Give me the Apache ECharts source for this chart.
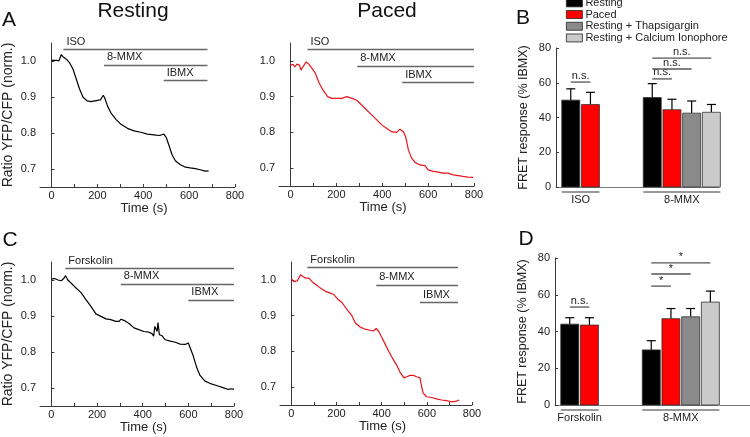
<!DOCTYPE html>
<html>
<head>
<meta charset="utf-8">
<script src="https://cdn.jsdelivr.net/npm/echarts@6/dist/echarts.min.js"></script>
<style>
  html, body { margin: 0; padding: 0; background: #fff; }
  #main { width: 750px; height: 437px; }
</style>
</head>
<body>
<div id="main"></div>
<script>
// ---- traces (time in s, normalised YFP/CFP ratio) ----
const tIsoRest = [0, 22, 32, 43, 50, 65, 79, 94, 108, 122, 137, 156, 173, 195, 213, 226, 233, 245, 259, 281, 303, 331, 360, 389, 418, 447, 468, 480, 490, 500, 512, 526, 540, 562, 584, 605, 627, 648, 670, 685];
const rIsoRest = [1.002, 1.002, 1.0, 1.018, 1.012, 1.005, 0.995, 0.977, 0.95, 0.923, 0.90, 0.889, 0.887, 0.89, 0.892, 0.905, 0.896, 0.874, 0.856, 0.838, 0.824, 0.813, 0.806, 0.802, 0.797, 0.795, 0.793, 0.795, 0.797, 0.788, 0.766, 0.739, 0.723, 0.712, 0.705, 0.703, 0.701, 0.698, 0.694, 0.695];

const tIsoPaced = [0, 12, 19, 29, 39, 46, 54, 62, 69, 80, 94, 109, 123, 142, 162, 181, 203, 224, 246, 268, 289, 311, 333, 354, 376, 398, 420, 441, 463, 477, 492, 502, 514, 528, 543, 564, 586, 600, 622, 644, 665, 687, 709, 731, 752, 774, 796];
const rIsoPaced = [0.988, 0.99, 0.983, 0.991, 0.988, 0.974, 0.983, 0.98, 0.997, 0.991, 0.979, 0.965, 0.941, 0.918, 0.90, 0.895, 0.895, 0.895, 0.90, 0.895, 0.89, 0.876, 0.862, 0.849, 0.835, 0.821, 0.811, 0.802, 0.80, 0.809, 0.802, 0.788, 0.751, 0.728, 0.716, 0.709, 0.707, 0.695, 0.691, 0.689, 0.686, 0.686, 0.681, 0.679, 0.677, 0.675, 0.674];

const tFskRest = [0, 14, 29, 43, 55, 62, 72, 87, 109, 130, 152, 174, 195, 217, 239, 260, 282, 297, 304, 318, 340, 362, 383, 405, 427, 441, 448, 453, 459, 463, 467, 473, 485, 499, 521, 543, 564, 586, 600, 608, 622, 637, 651, 673, 694, 723, 752, 774, 788, 800];
const rFskRest = [1.003, 1.004, 1.0, 0.998, 1.005, 1.012, 1.0, 0.991, 0.977, 0.965, 0.945, 0.926, 0.906, 0.899, 0.892, 0.89, 0.885, 0.885, 0.891, 0.888, 0.879, 0.867, 0.862, 0.857, 0.855, 0.851, 0.844, 0.871, 0.876, 0.857, 0.882, 0.848, 0.845, 0.834, 0.83, 0.827, 0.822, 0.821, 0.825, 0.821, 0.788, 0.756, 0.735, 0.719, 0.713, 0.707, 0.701, 0.696, 0.698, 0.696];

const tFskPaced = [1, 12, 26, 34, 41, 53, 63, 78, 92, 107, 129, 151, 173, 188, 203, 225, 247, 269, 283, 305, 327, 349, 364, 376, 386, 401, 415, 430, 445, 467, 481, 499, 511, 526, 540, 555, 570, 577, 584, 599, 621, 643, 665, 687, 709, 731, 743];
const rFskPaced = [1.003, 0.995, 0.997, 0.995, 1.014, 1.009, 1.005, 1.005, 0.995, 0.988, 0.977, 0.968, 0.963, 0.959, 0.948, 0.936, 0.917, 0.899, 0.88, 0.868, 0.862, 0.859, 0.857, 0.864, 0.857, 0.839, 0.821, 0.802, 0.784, 0.761, 0.742, 0.726, 0.729, 0.733, 0.733, 0.729, 0.726, 0.701, 0.683, 0.673, 0.671, 0.667, 0.664, 0.662, 0.659, 0.661, 0.664];

// ---- drug application bars above the traces ----
const drugsIso = ['ISO', '8-MMX', 'IBMX'];
const drugsFsk = ['Forskolin', '8-MMX', 'IBMX'];
const isoRestStart = [52, 229, 489], isoRestEnd = 680, isoRestLevel = [1.032, 0.989, 0.946];
const isoPacedStart = [74, 291, 487], isoPacedEnd = 800, isoPacedLevel = [1.033, 0.986, 0.939];
const fskRestStart = [61, 304, 600], fskRestEnd = 800, fskRestLevel = [1.033, 0.989, 0.945];
const fskPacedStart = [71, 376, 570], fskPacedEnd = 738, fskPacedLevel = [1.034, 0.986, 0.937];

// ---- bar panels (mean, SEM) ----
const conditions = ['Resting', 'Paced', 'Resting + Thapsigargin', 'Resting + Calcium Ionophore'];
const condColors = ['#000000', '#ff0000', '#8a8a8a', '#cacaca'];

const bGroups = ['ISO', '8-MMX'];
const bMean = [[50, 51.5], [47.5, 44.5], [null, 42.5], [null, 43]];
const bErr = [[6.5, 8], [7, 6], [null, 7], [null, 4.5]];
const bSigGroup = [0, 1, 1, 1], bSigFrom = [0, 0, 0, 0], bSigTo = [1, 1, 2, 3];
const bSigLevel = [60.4, 62.2, 67.9, 74.2];
const bSigText = ['n.s.', 'n.s.', 'n.s.', 'n.s.'];

const dGroups = ['Forskolin', '8-MMX'];
const dMean = [[44, 30], [43.5, 47], [null, 48], [null, 56]];
const dErr = [[3.5, 5], [4, 5.5], [null, 4.5], [null, 6]];
const dSigGroup = [0, 1, 1, 1], dSigFrom = [0, 0, 0, 0], dSigTo = [1, 1, 2, 3];
const dSigLevel = [53.3, 64.7, 71.3, 77.3];
const dSigText = ['n.s.', '*', '*', '*'];

const groupBarCount = [2, 4];

const FONT = '"Liberation Sans", Arial, Helvetica, sans-serif';
const AXIS = '#3a3a3a';
const SLOT0 = -35, PITCH = 19.7, BAR_W = 18;

const chart = echarts.init(document.getElementById('main'), null, { renderer: 'canvas' });

function zip(xs, ys) { return xs.map((x, i) => [x, ys[i]]); }

function traceX(grid) {
	return {
		type: 'value', gridIndex: grid, min: -50, max: 800,
		axisLine: { onZero: false, lineStyle: { color: AXIS, width: 1 } },
		axisTick: { inside: true, length: 3, lineStyle: { color: AXIS }, customValues: [0, 100, 200, 300, 400, 500, 600, 700, 800] },
		axisLabel: { fontSize: 11, margin: 3, color: '#222', fontFamily: FONT, customValues: [0, 200, 400, 600, 800] },
		splitLine: { show: false },
		name: 'Time (s)', nameLocation: 'middle', nameGap: 14,
		nameTextStyle: { fontSize: 13, color: '#222', fontFamily: FONT, padding: [0, 0, 0, 13] }
	};
}

function traceY(grid, showName) {
	return {
		type: 'value', gridIndex: grid, min: 0.65, max: 1.05,
		axisLine: { show: true, lineStyle: { color: AXIS, width: 1 } },
		axisTick: { show: true, inside: true, length: 3, lineStyle: { color: AXIS }, customValues: [0.7, 0.8, 0.9, 1.0] },
		axisLabel: { fontSize: 11, margin: 4, color: '#222', fontFamily: FONT, customValues: [0.7, 0.8, 0.9, 1.0], formatter: v => v.toFixed(1) },
		splitLine: { show: false },
		name: showName ? 'Ratio YFP/CFP (norm.)' : '', nameLocation: 'middle', nameGap: 25,
		nameTextStyle: { fontSize: 14, color: '#222', fontFamily: FONT }
	};
}

function traceSeries(grid, xs, ys, color, drugs, starts, end, levels) {
	return {
		type: 'line', xAxisIndex: grid, yAxisIndex: grid,
		data: zip(xs, ys), showSymbol: false, symbol: 'none', silent: true,
		lineStyle: { color: color, width: 1.2 },
		markLine: {
			silent: true, symbol: ['none', 'none'], animation: false,
			lineStyle: { color: '#666', width: 1.3, type: 'solid' },
			label: { show: true, position: 'insideStartTop', distance: [3, 2], formatter: '{b}', fontSize: 11, color: '#222', fontFamily: FONT },
			data: drugs.map((d, i) => [{ name: d, coord: [starts[i], levels[i]] }, { coord: [end, levels[i]] }])
		}
	};
}

function barAxes(grid, groups) {
	return {
		x: {
			type: 'category', gridIndex: grid, data: groups,
			axisLine: { lineStyle: { color: '#777', width: 1 } },
			axisTick: { show: false }, axisLabel: { show: false }, splitLine: { show: false }
		},
		y: {
			type: 'value', gridIndex: grid, min: 0, max: 80, interval: 20,
			axisLine: { show: true, lineStyle: { color: AXIS, width: 1 } },
			axisTick: { show: true, inside: true, length: 3, lineStyle: { color: AXIS } },
			axisLabel: { fontSize: 11, margin: 5, color: '#222', fontFamily: FONT },
			splitLine: { show: false },
			name: 'FRET response (% IBMX)', nameLocation: 'middle', nameGap: 26,
			nameTextStyle: { fontSize: 12.5, color: '#222', fontFamily: FONT }
		}
	};
}

function barSeries(grid, k, means, errs) {
	const data = [];
	means.forEach((m, i) => { if (m != null) data.push([i, m, errs[i]]); });
	return {
		type: 'custom', name: conditions[k], xAxisIndex: grid, yAxisIndex: grid,
		itemStyle: { color: condColors[k], borderColor: '#222' },
		data: data, silent: true,
		renderItem: function (params, api) {
			const base = api.coord([api.value(0), 0]);
			const top = api.coord([api.value(0), api.value(1)]);
			const errTop = api.coord([api.value(0), api.value(1) + api.value(2)]);
			const x0 = base[0] + SLOT0 + k * PITCH;
			const cx = x0 + BAR_W / 2;
			return {
				type: 'group',
				children: [
					{ type: 'line', shape: { x1: cx, y1: top[1], x2: cx, y2: errTop[1] }, style: { stroke: '#000', lineWidth: 1.2 } },
					{ type: 'line', shape: { x1: cx - 4.5, y1: errTop[1], x2: cx + 4.5, y2: errTop[1] }, style: { stroke: '#000', lineWidth: 1.2 } },
					{ type: 'rect', shape: { x: x0, y: top[1], width: BAR_W, height: base[1] - top[1] }, style: { fill: condColors[k], stroke: '#333', lineWidth: 0.8 } }
				]
			};
		}
	};
}

// underline + name below each group of bars
function groupSeries(grid, groups, extendAxis) {
	return {
		type: 'custom', xAxisIndex: grid, yAxisIndex: grid, silent: true,
		data: groups.map((g, i) => [i, groupBarCount[i]]),
		renderItem: function (params, api) {
			const base = api.coord([api.value(0), 0]);
			const x0 = base[0] + SLOT0;
			const x1 = base[0] + SLOT0 + (api.value(1) - 1) * PITCH + BAR_W;
			const kids = [
				{ type: 'line', shape: { x1: x0, y1: base[1] + 5, x2: x1, y2: base[1] + 5 }, style: { stroke: '#777', lineWidth: 1.3 } },
				{ type: 'text', x: (x0 + x1) / 2, y: base[1] + 12.5, style: { text: groups[params.dataIndex], fill: '#222', font: '11px ' + FONT, align: 'center', verticalAlign: 'middle' } }
			];
			// panel D: the baseline runs on to the right edge
			if (extendAxis && params.dataIndex === groups.length - 1) {
				kids.push({ type: 'line', shape: { x1: x1, y1: base[1] + 0.5, x2: 750, y2: base[1] + 0.5 }, style: { stroke: '#777', lineWidth: 1 } });
			}
			return { type: 'group', children: kids };
		}
	};
}

function sigSeries(grid, gIdx, from, to, level, texts) {
	return {
		type: 'custom', xAxisIndex: grid, yAxisIndex: grid, silent: true,
		data: gIdx.map((g, i) => [g, from[i], to[i], level[i]]),
		renderItem: function (params, api) {
			const c = api.coord([api.value(0), api.value(3)]);
			const xa = c[0] + SLOT0 + api.value(1) * PITCH + BAR_W / 2;
			const xb = c[0] + SLOT0 + api.value(2) * PITCH + BAR_W / 2;
			const txt = texts[params.dataIndex];
			return {
				type: 'group',
				children: [
					{ type: 'line', shape: { x1: xa, y1: c[1], x2: xb, y2: c[1] }, style: { stroke: '#555', lineWidth: 1.3 } },
					{ type: 'text', x: (xa + xb) / 2, y: c[1] - (txt === '*' ? 0 : 1), style: { text: txt, fill: '#222', font: '11px ' + FONT, align: 'center', verticalAlign: 'bottom' } }
				]
			};
		}
	};
}

const bAx = barAxes(4, bGroups);
const dAx = barAxes(5, dGroups);

const series = [
	traceSeries(0, tIsoRest, rIsoRest, '#000', drugsIso, isoRestStart, isoRestEnd, isoRestLevel),
	traceSeries(1, tIsoPaced, rIsoPaced, '#e8141b', drugsIso, isoPacedStart, isoPacedEnd, isoPacedLevel),
	traceSeries(2, tFskRest, rFskRest, '#000', drugsFsk, fskRestStart, fskRestEnd, fskRestLevel),
	traceSeries(3, tFskPaced, rFskPaced, '#e8141b', drugsFsk, fskPacedStart, fskPacedEnd, fskPacedLevel)
];
for (let k = 0; k < 4; k++) {
	series.push(barSeries(4, k, bMean[k], bErr[k]));
	series.push(barSeries(5, k, dMean[k], dErr[k]));
}
series.push(groupSeries(4, bGroups, false), groupSeries(5, dGroups, true));
series.push(sigSeries(4, bSigGroup, bSigFrom, bSigTo, bSigLevel, bSigText));
series.push(sigSeries(5, dSigGroup, dSigFrom, dSigTo, dSigLevel, dSigText));

const panelText = (text, x, y, size) => ({
	type: 'text', x: x, y: y, silent: true,
	style: { text: text, fill: '#111', font: size + 'px ' + FONT, align: 'center', verticalAlign: 'middle' }
});

chart.setOption({
	animation: false,
	textStyle: { fontFamily: FONT },
	grid: [
		{ left: 38, top: 43, width: 197, height: 144 },
		{ left: 279, top: 43, width: 195, height: 143 },
		{ left: 38, top: 262, width: 196, height: 144 },
		{ left: 280, top: 262, width: 192, height: 143 },
		{ left: 556, top: 48, width: 163, height: 139 },
		{ left: 555, top: 258, width: 163, height: 147 }
	],
	xAxis: [traceX(0), traceX(1), traceX(2), traceX(3), bAx.x, dAx.x],
	yAxis: [traceY(0, true), traceY(1, false), traceY(2, true), traceY(3, false), bAx.y, dAx.y],
	legend: {
		data: conditions, orient: 'vertical', left: 566, top: -3, padding: 0,
		itemWidth: 16, itemHeight: 8, itemGap: 0, icon: 'rect',
		itemStyle: { borderColor: '#222', borderWidth: 0.8 },
		textStyle: { fontSize: 11, lineHeight: 11.7, color: '#222', fontFamily: FONT, padding: [0, 0, 0, -2] },
		selectedMode: false
	},
	graphic: [
		panelText('A', 9, 20, 21),
		panelText('Resting', 133, 11, 21),
		panelText('Paced', 387, 11, 21),
		panelText('B', 523, 18, 21),
		panelText('C', 10, 240, 21),
		panelText('D', 526, 239, 21)
	],
	series: series
});

window.addEventListener('resize', () => {
	chart.resize();
});
</script>
</body>
</html>
